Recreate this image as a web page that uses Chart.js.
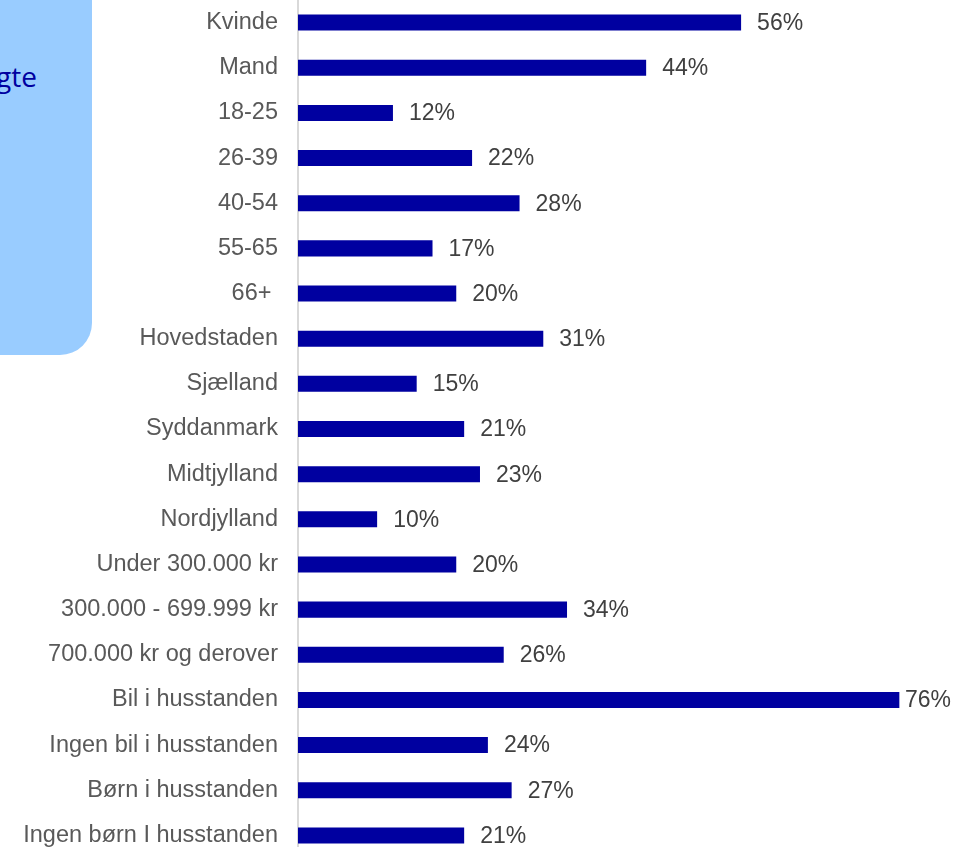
<!DOCTYPE html>
<html>
<head>
<meta charset="utf-8">
<script src="https://cdn.jsdelivr.net/npm/chart.js@4.4.1/dist/chart.umd.min.js"></script>
<style>
  html, body { margin: 0; padding: 0; overflow: hidden; background: #fff; }
  #panel {
    position: absolute; left: 0; top: 0; width: 92px; height: 355px;
    background: #99ccff; border-bottom-right-radius: 32px; overflow: hidden;
  }
  #panel span {
    position: absolute; right: 55px; top: 62px; white-space: nowrap;
    font: 28px/28px "Open Sans", sans-serif; color: #0000a0;
  }
  #wrap { position: absolute; left: 0; top: 0; width: 955px; height: 858px; }
</style>
</head>
<body>
<div id="panel"><span>udvalgte</span></div>
<div id="wrap"><canvas id="chart"></canvas></div>
<script>
// ---- Data ------------------------------------------------------------------
const categories = [
  "Kvinde", "Mand", "18-25", "26-39", "40-54", "55-65", "66+ ",
  "Hovedstaden", "Sjælland", "Syddanmark", "Midtjylland", "Nordjylland",
  "Under 300.000 kr", "300.000 - 699.999 kr", "700.000 kr og derover",
  "Bil i husstanden", "Ingen bil i husstanden", "Børn i husstanden",
  "Ingen børn I husstanden"
];
const shares = [56, 44, 12, 22, 28, 17, 20, 31, 15, 21, 23, 10, 20, 34, 26, 76, 24, 27, 21];
const axisMax = 80;

// værdietiketter ved enden af hver bjælke (rykkes ind hvis de rammer kanten)
const valueLabels = {
  id: "valueLabels",
  afterDatasetsDraw(chart) {
    const ctx = chart.ctx;
    const meta = chart.getDatasetMeta(0);
    ctx.save();
    ctx.font = "23px Arial, 'Liberation Sans', sans-serif";
    ctx.fillStyle = "#404040";
    ctx.textAlign = "left";
    ctx.textBaseline = "middle";
    meta.data.forEach((bar, i) => {
      const txt = shares[i] + "%";
      const w = ctx.measureText(txt).width;
      const x = Math.min(bar.x + 16, chart.width - 4 - w);
      ctx.fillText(txt, Math.max(x, bar.x + 5), bar.y + 1);
    });
    ctx.restore();
  },
};

new Chart(document.getElementById("chart").getContext("2d"), {
  type: "bar",
  data: {
    labels: categories,
    datasets: [{
      data: shares,
      backgroundColor: "#0000a0",
      borderWidth: 0,
      categoryPercentage: 1,
      barPercentage: 0.355,
    }],
  },
  options: {
    indexAxis: "y",
    responsive: true,
    maintainAspectRatio: false,
    animation: false,
    layout: { padding: { left: 0, right: 24, top: 0, bottom: 0 } },
    plugins: { legend: { display: false }, tooltip: { enabled: false } },
    scales: {
      x: { display: false, min: 0, max: axisMax },
      y: {
        grid: { display: false, drawTicks: false },
        border: { display: true, color: "#d9d9d9", width: 2 },
        ticks: {
          color: "#595959",
          padding: 20,
          font: { family: "Arial, 'Liberation Sans', sans-serif", size: 23.5 },
        },
        afterFit(scale) {
          scale.width = 298;
          scale.paddingTop = 0;
          scale.paddingBottom = 0;
        },
      },
    },
  },
  plugins: [valueLabels],
});
</script>
</body>
</html>
